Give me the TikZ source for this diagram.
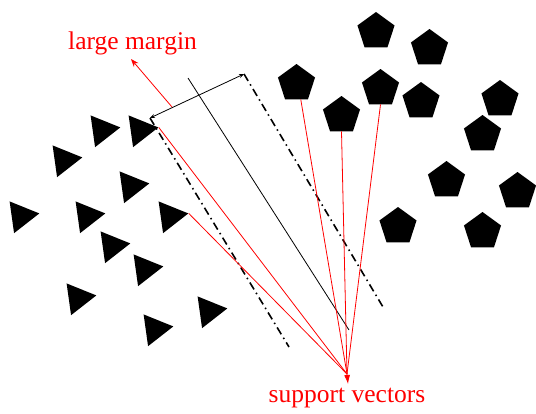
\documentclass[tikz,border=0pt]{standalone}
\usepackage{fontspec}
\setmainfont{Liberation Serif}
\usetikzlibrary{arrows.meta,shapes.geometric}

\begin{document}
\begin{tikzpicture}[
    x=1pt, y=-1pt,
    tri/.style={regular polygon, regular polygon sides=3, shape border rotate=-82, fill=black, inner sep=0pt, minimum size=37pt},
    pent/.style={regular polygon, regular polygon sides=5, fill=black, inner sep=0pt, minimum size=39pt},
    svline/.style={red, line width=0.8pt},
    margin/.style={line width=1.6pt, dash pattern=on 8pt off 4pt on 1.5pt off 4pt},
    redlabel/.style={text=red, font=\fontsize{25.5}{30}\selectfont, inner sep=0pt, anchor=base}
]
\useasboundingbox (0,0) rectangle (536,413);

% class one: triangles
\node[tri] (t1) at (102,130) {};
\node[tri] (t2) at (140,130) {};
\node[tri] (t3) at (64,160) {};
\node[tri] (t4) at (131,186) {};
\node[tri] (t5) at (21,216) {};
\node[tri] (t6) at (87,216) {};
\node[tri] (t7) at (170,216) {};
\node[tri] (t8) at (112,246) {};
\node[tri] (t9) at (145,269) {};
\node[tri] (t10) at (78,298) {};
\node[tri] (t11) at (209,311) {};
\node[tri] (t12) at (155,329) {};

% class two: pentagons
\node[pent] (p1) at (376,31.5) {};
\node[pent] (p2) at (429.5,48.5) {};
\node[pent] (p3) at (296.5,83.5) {};
\node[pent] (p4) at (380.5,88.5) {};
\node[pent] (p5) at (341.5,115.5) {};
\node[pent] (p6) at (421,101.5) {};
\node[pent] (p7) at (500,99.5) {};
\node[pent] (p8) at (482.5,134.5) {};
\node[pent] (p9) at (446.5,180.5) {};
\node[pent] (p10) at (517.5,191.5) {};
\node[pent] (p11) at (398,226.5) {};
\node[pent] (p12) at (482.5,231.5) {};

% margins and separating line
\coordinate (m1a) at (150,118);
\coordinate (m1b) at (289,347);
\coordinate (m2a) at (244,74);
\coordinate (m2b) at (383,307);
\coordinate (b1) at (188,78);
\coordinate (b2) at (349,330);
\draw[margin] (m1a) -- (m1b);
\draw[margin] (m2a) -- (m2b);
\draw[line width=0.8pt] (b1) -- (b2);
\draw[line width=0.8pt, {Stealth[length=5pt,width=4pt]}-{Stealth[length=5pt,width=4pt]}] (m1a) -- (m2a);

% labels
\node[redlabel] (lm) at (132.5,49.5) {large margin};
\node[redlabel] (sv) at (347,402) {support vectors};
\coordinate (lmfoot) at (172,107);
\coordinate (lmtip) at (131,59);
\coordinate (svfan) at (347,374);
\coordinate (svtip) at (348,384);

\draw[svline, -{Stealth[length=8pt,width=6pt]}] (lmfoot) -- (lmtip);
\draw[svline] (t2.corner 1) -- (svfan);
\draw[svline] (t7.corner 1) -- (svfan);
\draw[svline] (p3.-75) -- (svfan);
\draw[svline] (p5.south) -- (svfan);
\draw[svline] (p4.south) -- (svfan);
\draw[svline, -{Latex[length=9pt,width=6pt]}] (svfan) -- (svtip);
\end{tikzpicture}
\end{document}
